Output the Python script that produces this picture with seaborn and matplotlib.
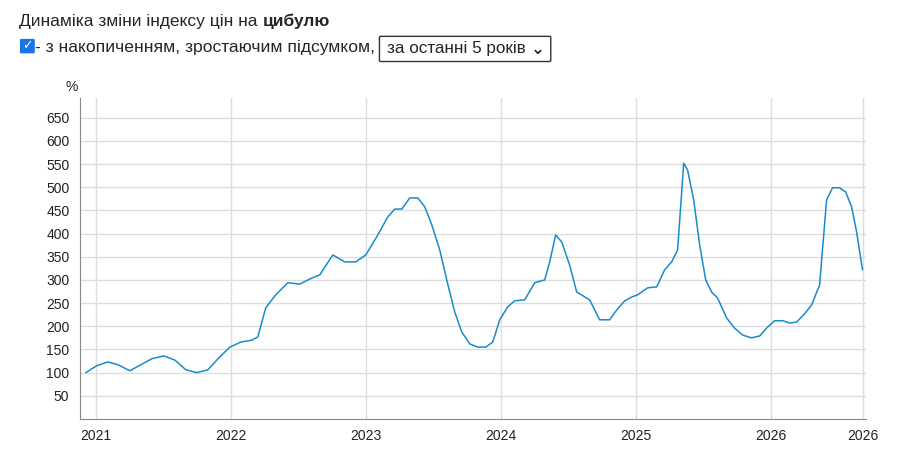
import numpy as np
import pandas as pd
import matplotlib
matplotlib.use("Agg")
import matplotlib.pyplot as plt
import seaborn as sns
from matplotlib.patches import FancyBboxPatch

# data: position as decimal year, value in %
years = [2020.926, 2021.007, 2021.089, 2021.163, 2021.252, 2021.333, 2021.415, 2021.504,
         2021.585, 2021.667, 2021.748, 2021.830, 2021.911, 2021.993, 2022.074, 2022.156,
         2022.200, 2022.259, 2022.333, 2022.422, 2022.511, 2022.585, 2022.659, 2022.756,
         2022.844, 2022.926, 2023.000, 2023.081, 2023.163, 2023.215, 2023.267, 2023.326,
         2023.385, 2023.437, 2023.489, 2023.548, 2023.600, 2023.659, 2023.711, 2023.770,
         2023.830, 2023.889, 2023.941, 2023.993, 2024.052, 2024.104, 2024.178, 2024.252,
         2024.326, 2024.363, 2024.407, 2024.452, 2024.511, 2024.563, 2024.659, 2024.733,
         2024.807, 2024.859, 2024.919, 2024.970, 2025.015, 2025.089, 2025.156, 2025.215,
         2025.267, 2025.311, 2025.356, 2025.385, 2025.430, 2025.474, 2025.519, 2025.563,
         2025.607, 2025.674, 2025.733, 2025.793, 2025.859, 2025.919, 2025.970, 2026.030,
         2026.089, 2026.141, 2026.193, 2026.252, 2026.304, 2026.363, 2026.415, 2026.459,
         2026.511, 2026.556, 2026.600, 2026.637, 2026.681]
values = [100, 115, 123, 117, 104, 117, 130, 136,
          127, 106, 100, 106, 132, 155, 166, 170,
          177, 240, 268, 294, 291, 302, 311, 354,
          339, 339, 354, 393, 436, 453, 453, 477,
          477, 458, 419, 365, 300, 231, 188, 162,
          155, 155, 166, 214, 242, 255, 257, 294,
          300, 339, 397, 382, 332, 274, 257, 214,
          214, 235, 255, 263, 268, 283, 285, 322,
          339, 365, 552, 537, 473, 376, 300, 274,
          261, 218, 196, 181, 175, 179, 196, 212,
          212, 207, 209, 227, 246, 289, 473, 499,
          499, 490, 458, 404, 322]

tick_pos = [2021, 2022, 2023, 2024, 2025, 2026, 2026.681]
tick_labels = ["2021", "2022", "2023", "2024", "2025", "2026", "2026"]
y_ticks = list(range(50, 700, 50))

df = pd.DataFrame({"year": years, "value": values})

sns.set_style("white")
plt.rcParams["font.family"] = ["Liberation Sans", "DejaVu Sans"]

fig = plt.figure(figsize=(8.97, 4.66), dpi=100)
ax = fig.add_axes([0.089, 0.101, 0.876, 0.689])
sns.lineplot(data=df, x="year", y="value", color="#1a8bc9", linewidth=1.1, ax=ax)

ax.set_xlim(2020.881, 2026.704)
ax.set_ylim(0, 693)
ax.set_xticks(tick_pos)
ax.set_xticklabels(tick_labels)
ax.set_yticks(y_ticks)
ax.tick_params(labelsize=10, colors="#222222", length=4, color="#888888")
ax.grid(True, color="#dddddd", linewidth=1)
ax.set_axisbelow(True)
for s in ["top", "right"]:
    ax.spines[s].set_visible(False)
for s in ["left", "bottom"]:
    ax.spines[s].set_color("#888888")
ax.set_xlabel("")
ax.set_ylabel("")
fig.text(0.073, 0.805, "%", fontsize=10)

# header
fig.text(0.021, 0.945, "Динаміка зміни індексу цін на", fontsize=12.5)
fig.text(0.293, 0.945, "цибулю", fontsize=12.5, fontweight="bold")
fig.patches.append(FancyBboxPatch((0.024, 0.888), 0.013, 0.026, boxstyle="round,pad=0.001",
                                  transform=fig.transFigure, facecolor="#1a73e8", edgecolor="#1a73e8"))
fig.text(0.0305, 0.901, "✓", fontsize=9, color="white", ha="center", va="center", fontweight="bold")
fig.text(0.039, 0.889, "- з накопиченням, зростаючим підсумком,", fontsize=12.6)
fig.patches.append(FancyBboxPatch((0.425, 0.870), 0.187, 0.05, boxstyle="round,pad=0.002",
                                  transform=fig.transFigure, facecolor="white", edgecolor="#333333"))
fig.text(0.431, 0.887, "за останні 5 років", fontsize=12.3)
fig.text(0.599, 0.893, "⌄", fontsize=12, ha="center", va="center", fontweight="bold")

fig.savefig("out.png", dpi=100)
